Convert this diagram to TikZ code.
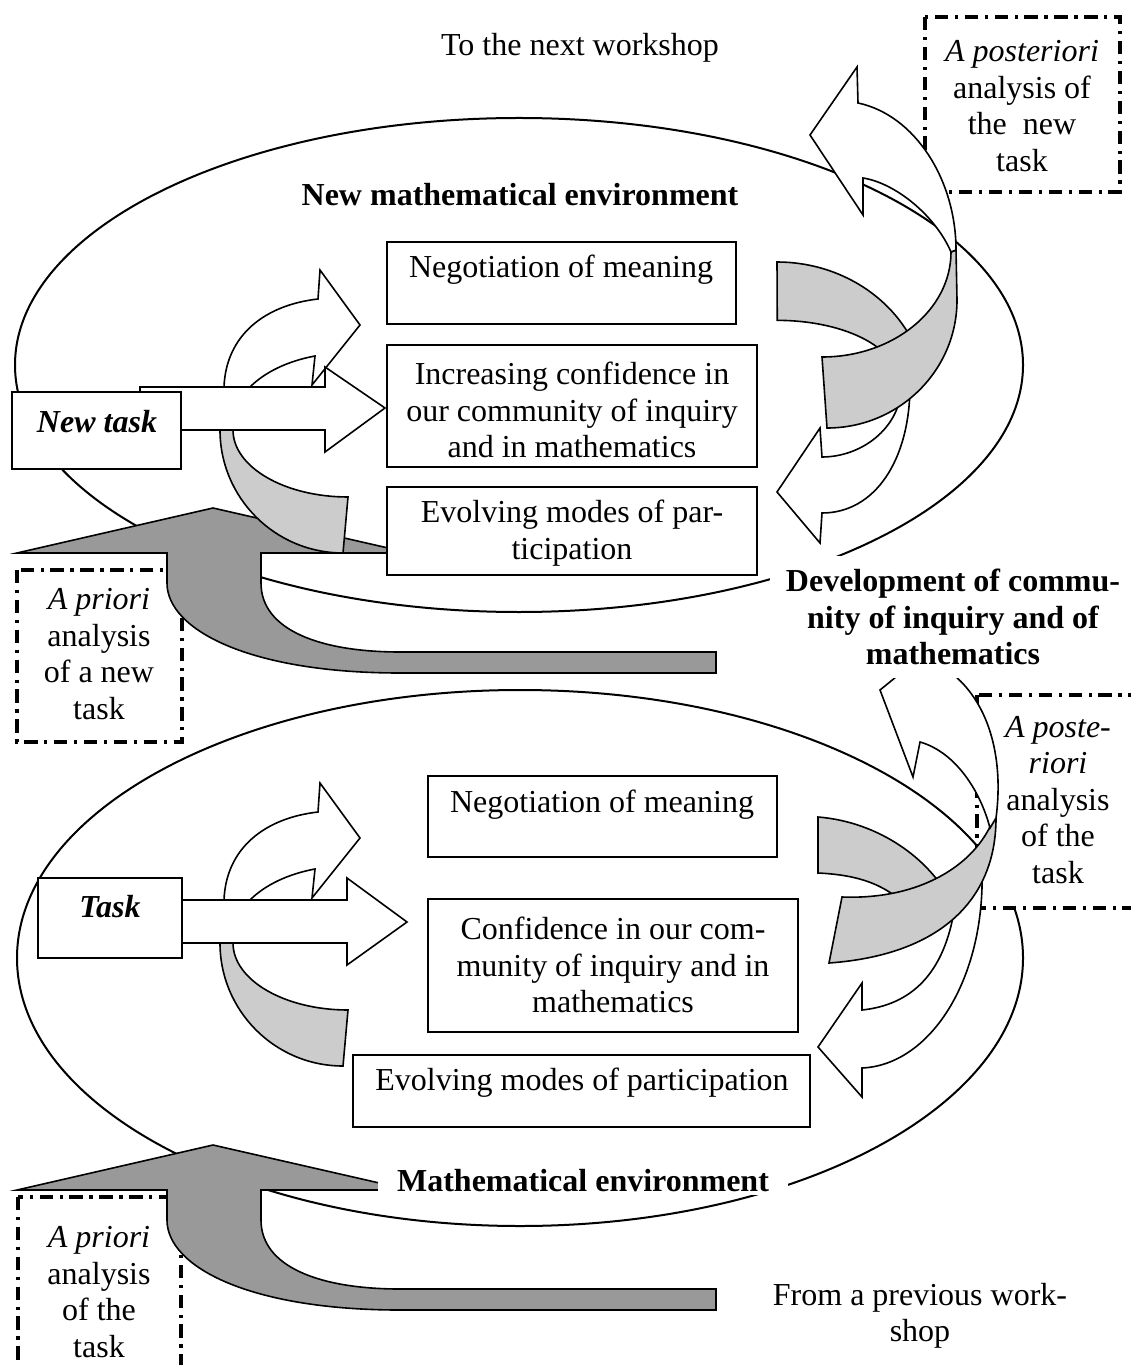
\documentclass[tikz,border=0pt]{standalone}
\usepackage{fontspec}
\setmainfont{Liberation Serif}
\definecolor{grisclaro}{HTML}{CCCCCC}
\definecolor{grisoscuro}{HTML}{999999}
\tikzset{
  caja/.style={draw, fill=white, line width=0.55pt},
  forma/.style={draw, line width=0.6pt, line join=miter},
  rayas/.style={draw, fill=white, line width=1.4pt, dash pattern=on 5pt off 2.5pt on 1.2pt off 2.5pt},
  texto/.style={font=\fontsize{12}{13.7}\selectfont, align=center, inner sep=0pt},
  negrita/.style={font=\fontsize{12}{13.7}\selectfont\bfseries, align=center},
  flechaoscura/.pic={
    \filldraw[forma, fill=grisoscuro] (17,553) -- (213,508) -- (410,553) -- (261,553) -- (261,583)
      .. controls (261,630) and (320,652) .. (400,652) -- (716,652) -- (716,673) -- (400,673)
      .. controls (250,673) and (167,630) .. (167,583) -- (167,553) -- cycle;
  },
  giro/.pic={
    % banda gris
    \filldraw[forma, fill=grisclaro] (220,430) arc[start angle=180, end angle=90, radius=123]
      -- (348,497) arc[start angle=90, end angle=180, x radius=115, y radius=67] -- cycle;
    % flecha curva
    \filldraw[forma, fill=white] (224,387) .. controls (226,335) and (265,305) .. (318,299)
      -- (320,270) -- (360,325) -- (312,385) -- (315,356)
      .. controls (288,361) and (265,372) .. (250,387) -- cycle;
  },
}
\begin{document}
\begin{tikzpicture}[x=0.375pt, y=-0.375pt]
\useasboundingbox (0,0) rectangle (1130,1365);
% elipses
\draw[line width=0.75pt] (519,365) ellipse [x radius=504, y radius=247];
\draw[line width=0.75pt] (520,958) ellipse [x radius=503, y radius=268];
% recuadros de analisis
\filldraw[rayas] (925,17) rectangle (1120,192);
\filldraw[rayas] (17,570) rectangle (182,742);
\filldraw[rayas] (977,695) rectangle (1145,908);
\filldraw[rayas] (18,1197) rectangle (181,1380);
% flechas oscuras
\pic at (0,0) {flechaoscura};
\pic at (0,637) {flechaoscura};
% giros de la izquierda
\foreach \dy in {0,513}
  \pic at (0,\dy) {giro};
% flechas rectas
\filldraw[forma, fill=white] (140,387) -- (325,387) -- (325,367) -- (385,408) -- (325,452) -- (325,430) -- (140,430) -- cycle;
\filldraw[forma, fill=white] (182,900) -- (347,900) -- (347,878) -- (407,922) -- (347,965) -- (347,943) -- (182,943) -- cycle;
% cajas
\filldraw[caja] (12,392) rectangle (181,469);
\filldraw[caja] (387,242) rectangle (736,324);
\filldraw[caja] (387,345) rectangle (757,467);
\filldraw[caja] (387,487) rectangle (757,575);
\filldraw[caja] (38,878) rectangle (182,958);
\filldraw[caja] (428,776) rectangle (777,857);
\filldraw[caja] (428,899) rectangle (798,1032);
\filldraw[caja] (353,1055) rectangle (810,1127);
% espiral de arriba
\filldraw[forma, fill=grisclaro] (777,262) arc[start angle=270, end angle=340, x radius=150, y radius=138]
  -- (886,355) arc[start angle=335, end angle=270, x radius=120, y radius=60] -- cycle;
\filldraw[forma, fill=white] (910,385) .. controls (910,460) and (875,513) .. (822,513) -- (820,543)
  -- (777,492) -- (820,428) -- (822,457) .. controls (860,457) and (900,430) .. (902,385) -- cycle;
\filldraw[forma, fill=grisclaro] (822,357) arc[start angle=90, end angle=0, x radius=129, y radius=105]
  -- (956,250) -- (957,300) arc[start angle=0, end angle=90, x radius=130, y radius=128] -- cycle;
\filldraw[forma, fill=white] (956,250) .. controls (956,180) and (915,115) .. (858,103) -- (857,67)
  -- (810,135) -- (863,215) -- (863,178) .. controls (895,183) and (935,215) .. (951,252) -- cycle;
% espiral de abajo
\filldraw[forma, fill=grisclaro] (818,817) .. controls (880,822) and (930,860) .. (950,900) -- (915,915)
  .. controls (890,885) and (860,875) .. (818,873) -- cycle;
\filldraw[forma, fill=white] (982,870) .. controls (985,980) and (930,1065) .. (862,1068) -- (862,1097)
  -- (818,1047) -- (862,983) -- (862,1010) .. controls (910,1005) and (945,975) .. (955,905) -- cycle;
\filldraw[forma, fill=grisclaro] (842,897) .. controls (920,900) and (975,865) .. (993,820) -- (996,818)
  .. controls (996,900) and (940,955) .. (829,963) -- cycle;
\filldraw[forma, fill=white] (996,818) .. controls (1005,750) and (985,685) .. (930,660) -- (923,655)
  -- (880,690) -- (913,777) -- (920,742) .. controls (955,752) and (980,790) .. (990,828) -- cycle;
% textos
\node[texto] (siguiente) at (580,48) {To the next workshop};
\node[texto] (postnueva) at (1022,106) {\textit{A posteriori}\\analysis of\\the~ new\\task};
\node[negrita] (nuevoentorno) at (520,195) {New mathematical environment};
\node[texto] (negsup) at (561,270) {Negotiation of meaning};
\node[texto] (incsup) at (572,410) {Increasing confidence in\\our community of inquiry\\and in mathematics};
\node[texto] (evosup) at (572,533) {Evolving modes of par-\\ticipation};
\node[negrita] (nuevatarea) at (97,422) {\itshape New task};
\node[texto] (priorisup) at (99,654) {\textit{A priori}\\analysis\\of a new\\task};
\node[negrita, fill=white, inner xsep=6pt, inner ysep=5pt] (desarrollo) at (953,617) {Development of commu-\\nity of inquiry and of\\mathematics};
\node[texto] (posttarea) at (1058,800) {\textit{A poste-}\\\textit{riori}\\analysis\\of the\\task};
\node[texto] (neginf) at (602,805) {Negotiation of meaning};
\node[negrita] (tarea) at (110,907) {\itshape Task};
\node[texto] (confinf) at (613,965) {Confidence in our com-\\munity of inquiry and in\\mathematics};
\node[texto] (evoinf) at (582,1083) {Evolving modes of participation};
\node[negrita, fill=white, inner xsep=7pt, inner ysep=1.5pt, anchor=base] (entorno) at (583,1191) {Mathematical environment};
\node[texto] (prioriinf) at (99,1292) {\textit{A priori}\\analysis\\of the\\task};
\node[texto] (anterior) at (920,1316) {From a previous work-\\shop};
\end{tikzpicture}
\end{document}
